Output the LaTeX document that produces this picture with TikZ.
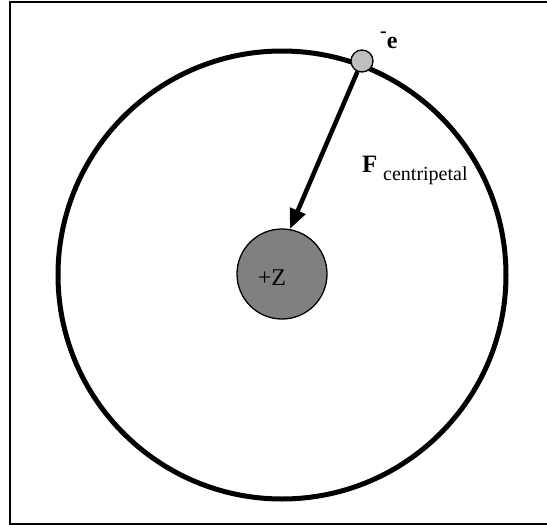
\documentclass[tikz,border=0pt]{standalone}
\usepackage{fontspec}
\setmainfont{Liberation Serif}
\usetikzlibrary{arrows.meta}
\begin{document}
\begin{tikzpicture}[x=1pt,y=-1pt,
  orbit/.style={draw=black,line width=5pt},
  nucleus/.style={circle,draw=black,line width=1.3pt,fill=black!50,minimum size=90pt,inner sep=0pt},
  electron/.style={circle,draw=black,line width=1.3pt,fill=black!25,minimum size=22pt,inner sep=0pt},
  force/.style={line width=4.5pt,-{Triangle[length=20pt,width=16pt]}},
  lbl/.style={inner sep=0pt,anchor=base west}]
\useasboundingbox (0,0) rectangle (547,525);
\clip (0,0) rectangle (547,525);
\draw[line width=2pt] (10,2) rectangle (552,523.5);
\coordinate (C) at (282,275);
\draw[orbit] (C) circle[radius=224];
\node[nucleus] (N) at (282,274) {};
\node[anchor=base,inner sep=0pt,font=\fontsize{24}{28}\selectfont] (Z) at (272,285) {+Z};
\node[electron] (E) at (362,61) {};
\draw[force] (E) -- (N.80);
\node[lbl,font=\fontsize{24}{28}\selectfont\bfseries] (el) at (380,48) {\raisebox{11pt}{\fontsize{20}{20}\selectfont -}e};
\node[lbl,font=\fontsize{25}{30}\selectfont\bfseries] (F) at (362,172) {F};
\node[lbl,font=\fontsize{20}{24}\selectfont] (cp) at (383,180) {centripetal};
\end{tikzpicture}
\end{document}
